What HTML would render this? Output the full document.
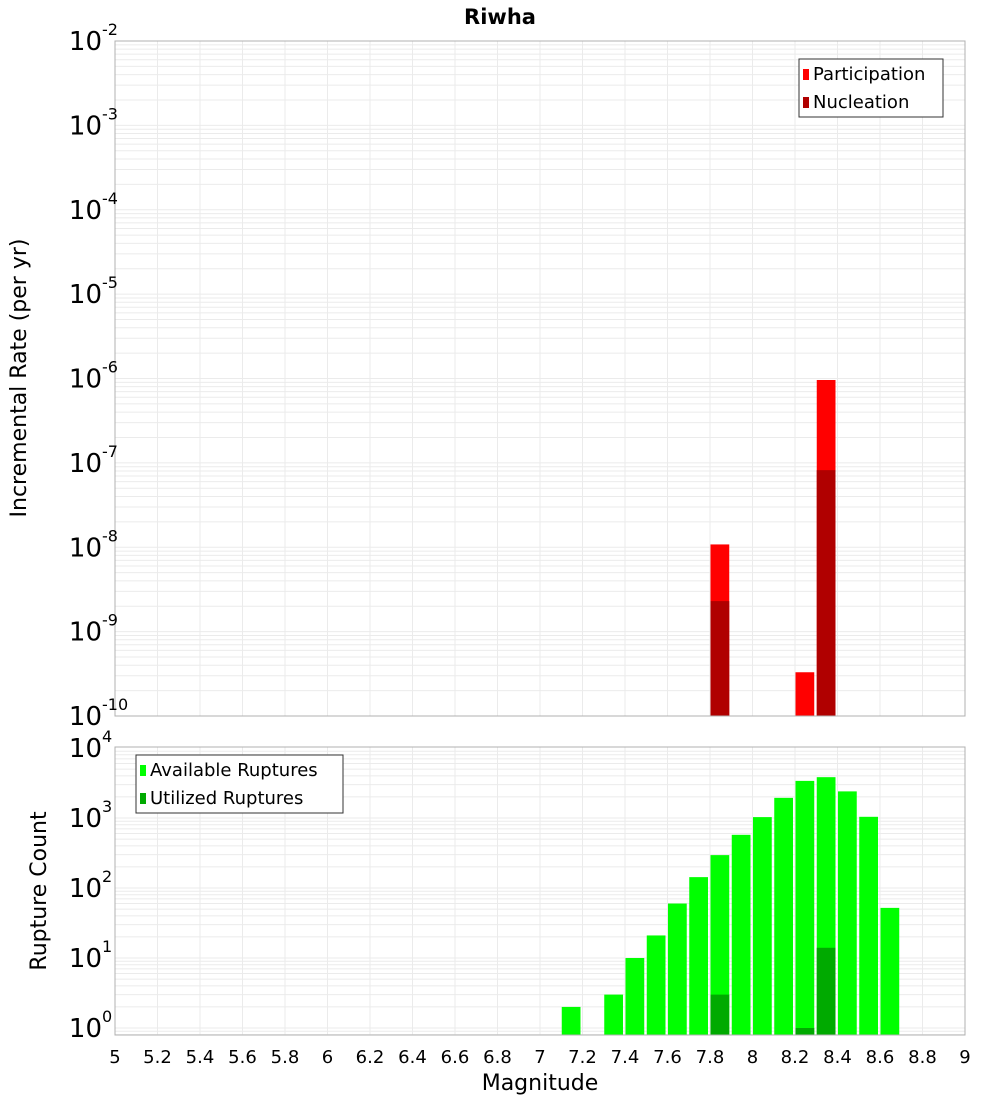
<!DOCTYPE html>
<html><head><meta charset="utf-8"><style>
html,body{margin:0;padding:0;background:#fff;width:1000px;height:1100px;overflow:hidden}
svg text{font-family:"DejaVu Sans","Liberation Sans",sans-serif}
</style></head><body>
<svg id="chart" width="1000" height="1100" xmlns="http://www.w3.org/2000/svg">
<text x="500" y="24" text-anchor="middle" font-size="21" font-weight="bold">Riwha</text>
<g id="top"></g>
<g id="bot"></g>
<text transform="translate(26,378) rotate(-90)" text-anchor="middle" font-size="22">Incremental Rate (per yr)</text>
<text transform="translate(46,891) rotate(-90)" text-anchor="middle" font-size="22">Rupture Count</text>
<text x="540" y="1090" text-anchor="middle" font-size="22">Magnitude</text>
</svg>
<script>
const partMags=[7.8,8.2,8.3];
const partRates=[1.08e-8,3.3e-10,9.6e-7];
const nuclMags=[7.8,8.3];
const nuclRates=[2.3e-9,8.2e-8];
const availMags=[7.1,7.3,7.4,7.5,7.6,7.7,7.8,7.9,8.0,8.1,8.2,8.3,8.4,8.5,8.6];
const availCounts=[2,3,10,21,60,143,295,575,1030,1940,3390,3830,2400,1040,52];
const usedMags=[7.8,8.2,8.3];
const usedCounts=[3,1,14];
const xTicks=[5,5.2,5.4,5.6,5.8,6,6.2,6.4,6.6,6.8,7,7.2,7.4,7.6,7.8,8,8.2,8.4,8.6,8.8,9];
const topExps=[-2,-3,-4,-5,-6,-7,-8,-9,-10];
const botExps=[0,1,2,3,4];

const NS="http://www.w3.org/2000/svg";
const X0=115,X1=965;
const xs=m=>X0+(m-5)/4*(X1-X0);
const yTop=v=>41+(-2-Math.log10(v))*84.375;
const yBot=v=>1028-70*Math.log10(v);
function mk(p,t,a){const e=document.createElementNS(NS,t);for(const k in a)e.setAttribute(k,a[k]);p.appendChild(e);return e;}

function frame(g,top,bot,yf,lo,hi){
  for(let d=lo;d<hi;d++)for(let k=1;k<10;k++){
    const y=yf(k*Math.pow(10,d));
    if(y<top||y>bot)continue;
    const l=mk(g,'line',{x1:X0,x2:X1,y1:y,y2:y,stroke:'#ebebeb','stroke-width':1});
    
    
  }
  xTicks.forEach(t=>{
    const l=mk(g,'line',{x1:xs(t),x2:xs(t),y1:top,y2:bot,stroke:'#ebebeb','stroke-width':1});
    
    
  });
}
function bar(g,m,v,yf,base,col,name){
  const x=xs(m)+0.5,w=xs(m+0.1)-xs(m)-2.5,y=yf(v);
  const r=mk(g,'rect',{x:x,y:y,width:w,height:base-y,fill:col});
  
  
}
function ylabel(g,y,e,name){
  const t=mk(g,'text',{x:102,y:y+9,'text-anchor':'end','font-size':26});
  t.textContent='10';
  
  
  const s=mk(g,'text',{x:102,y:y-6,'font-size':16});
  s.textContent=String(e);
  
  
}
function legend(g,x,y,w,items){
  const b=mk(g,'rect',{x:x,y:y,width:w,height:58,fill:'#fff',stroke:'#333','stroke-width':1});
  
  
  items.forEach((it,i)=>{
    const r=mk(g,'rect',{x:x+4,y:y+10+i*28,width:6,height:11,fill:it[1]});
    
    
    const t=mk(g,'text',{x:x+14,y:y+21+i*28,'font-size':18});
    t.textContent=it[0];
    
    
  });
}
// top
const gt=document.getElementById('top');
frame(gt,41,716,yTop,-10,-2);
partMags.forEach((m,i)=>bar(gt,m,partRates[i],yTop,716,'#ff0000','participation-bar'));
nuclMags.forEach((m,i)=>bar(gt,m,nuclRates[i],yTop,716,'#b00000','nucleation-bar'));
const ft=mk(gt,'rect',{x:X0,y:41,width:X1-X0,height:675,fill:'none',stroke:'#b0b0b0'});


topExps.forEach(e=>ylabel(gt,yTop(Math.pow(10,e)),e,'y-tick-label'));
legend(gt,799,59,144,[['Participation','#ff0000'],['Nucleation','#b00000']]);
// bottom
const gb=document.getElementById('bot');
frame(gb,747,1035,yBot,-1,4);
availMags.forEach((m,i)=>bar(gb,m,availCounts[i],yBot,1035,'#00ff00','available-bar'));
usedMags.forEach((m,i)=>bar(gb,m,usedCounts[i],yBot,1035,'#00aa00','utilized-bar'));
const fb=mk(gb,'rect',{x:X0,y:747,width:X1-X0,height:288,fill:'none',stroke:'#b0b0b0'});


botExps.forEach(e=>ylabel(gb,yBot(Math.pow(10,e)),e,'y-tick-label'));
legend(gb,136,755,207,[['Available Ruptures','#00ff00'],['Utilized Ruptures','#00aa00']]);
xTicks.forEach(t=>{
  const l=mk(gb,'text',{x:xs(t),y:1063,'text-anchor':'middle','font-size':18});
  l.textContent=String(t);
  
  
});
</script>
</body></html>
